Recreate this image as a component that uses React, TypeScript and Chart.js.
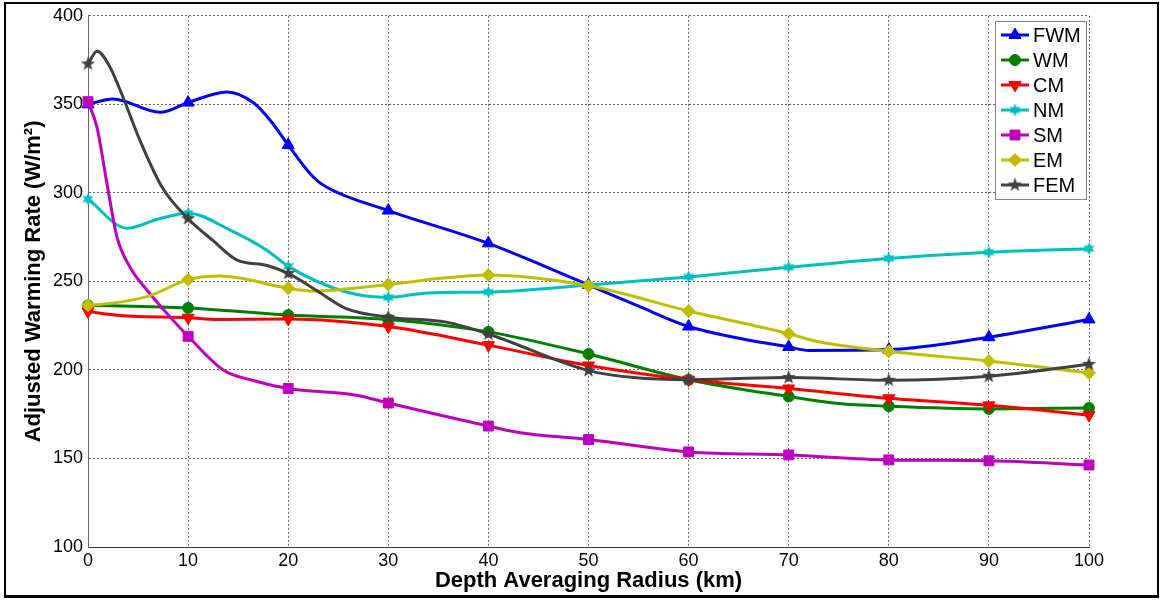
import React, { useEffect, useRef } from 'react';
import { Chart, registerables } from 'chart.js';
import { drawPoint } from 'chart.js/helpers';

Chart.register(...registerables);

// ---------- data ----------
const seriesNames = ['FWM', 'WM', 'CM', 'NM', 'SM', 'EM', 'FEM'];

const fwmX = [0, 2.5, 7.2, 10, 13.9, 16.5, 18.2, 20, 22.5, 23.9, 30, 40, 45, 50, 55, 60, 64.5, 70, 72, 80, 90, 100];
const fwmY = [350, 353, 345.5, 351, 357, 351, 341, 327, 309, 303, 290, 271.5, 260, 248, 236, 224.5, 218.5, 213, 211, 211.5, 218.5, 228.5];

const wmX = [0, 10, 20, 30, 40, 50, 60, 70, 75, 80, 90, 100];
const wmY = [236.5, 235, 231, 228.5, 221.5, 209, 194.5, 185, 181, 179.5, 178, 178.5];

const cmX = [0, 3.2, 10, 13, 20, 30, 40, 50, 60, 70, 80, 90, 100];
const cmY = [233, 230.8, 229.5, 228.5, 228.8, 224.5, 214, 202.5, 194.5, 189.5, 184, 180, 174.5];

const nmX = [0, 3.9, 6.9, 10, 14.2, 17.9, 20, 25.8, 30, 34, 40, 50, 60, 70, 80, 90, 100];
const nmY = [296.5, 280, 285, 288.5, 279, 267.5, 258.5, 244, 241, 243.5, 244, 248, 252.5, 258, 263, 266.5, 268.5];

const smX = [0, 0.9, 1.9, 2.9, 4.2, 5.9, 7.9, 10, 13.5, 16.5, 20, 26.8, 30, 40, 43.2, 50, 60, 70, 80, 90, 100];
const smY = [351.5, 337, 305, 275, 258, 245, 231.8, 219, 200, 194, 189.5, 185.7, 181.3, 168.3, 164.5, 160.7, 153.7, 152, 149.2, 148.7, 146.3];

const emX = [0, 3.2, 6.2, 10, 13.2, 20, 22.5, 30, 35.8, 40, 50, 60, 70, 72.5, 80, 90, 100];
const emY = [236.5, 238.3, 242, 251, 253, 246.2, 244.6, 248.3, 252, 253.6, 247.5, 233.3, 220.5, 216.5, 210.5, 205, 198.3];

const femX = [0, 0.9, 2.2, 3.5, 5.2, 7.4, 10, 12.5, 14.9, 17.9, 20, 22.8, 25.8, 30, 35.8, 40, 50, 54.5, 60, 70, 80, 90, 100];
const femY = [372.8, 380, 371, 354, 329.5, 303.2, 285.4, 273, 262, 259, 254.5, 245, 234.6, 229.8, 227, 220.3, 199.6, 195.7, 194.5, 195.7, 194.2, 196.4, 203.2];

const xTickValues = [0, 10, 20, 30, 40, 50, 60, 70, 80, 90, 100];
const yTickValues = [100, 150, 200, 250, 300, 350, 400];

const xTitle = 'Depth Averaging Radius (km)';
const yTitle = 'Adjusted Warming Rate (W/m²)';

// ---------- style ----------
const colors = ['#0000FF', '#008000', '#FF0000', '#00BFBF', '#BF00BF', '#BFBF00', '#404040'];
const FONT = '"Liberation Sans", Arial, sans-serif';

function makeStar(n: number, rOut: number, rIn: number, color: string): HTMLCanvasElement {
  const size = Math.ceil(rOut * 2 + 2);
  const c = document.createElement('canvas');
  c.width = size;
  c.height = size;
  const g = c.getContext('2d')!;
  const cx = size / 2;
  const cy = size / 2;
  g.beginPath();
  for (let i = 0; i < n * 2; i++) {
    const r = i % 2 === 0 ? rOut : rIn;
    const a = -Math.PI / 2 + (i * Math.PI) / n;
    const x = cx + r * Math.cos(a);
    const y = cy + r * Math.sin(a);
    if (i === 0) g.moveTo(x, y);
    else g.lineTo(x, y);
  }
  g.closePath();
  g.fillStyle = color;
  g.fill();
  return c;
}

const legendPlugin = {
  id: 'matlabLegend',
  afterDraw(chart: any) {
    const ctx = chart.ctx as CanvasRenderingContext2D;
    ctx.save();
    const bx = 995.5, by = 21.5, bw = 91, bh = 178;
    ctx.fillStyle = '#ffffff';
    ctx.fillRect(bx, by, bw, bh);
    ctx.strokeStyle = '#808080';
    ctx.lineWidth = 1;
    ctx.strokeRect(bx, by, bw, bh);
    chart.data.datasets.forEach((ds: any, i: number) => {
      const y = 35 + 25 * i;
      ctx.strokeStyle = ds.borderColor;
      ctx.lineWidth = 3;
      ctx.beginPath();
      ctx.moveTo(1001, y);
      ctx.lineTo(1029, y);
      ctx.stroke();
      ctx.fillStyle = ds.pointBackgroundColor;
      ctx.strokeStyle = ds.pointBorderColor;
      ctx.lineWidth = 1;
      drawPoint(ctx, {
        pointStyle: ds.pointStyle,
        rotation: ds.pointRotation || 0,
        radius: ds.markerRadius,
        borderWidth: ds.pointStyle instanceof HTMLCanvasElement ? 0 : 1,
      } as any, 1015, y);
      ctx.fillStyle = '#000000';
      ctx.font = '20px ' + FONT;
      ctx.textBaseline = 'middle';
      ctx.textAlign = 'left';
      ctx.fillText(ds.label, 1033, y + 1);
    });
    ctx.restore();
  },
};

export default function App() {
  const ref = useRef<HTMLCanvasElement | null>(null);

  useEffect(() => {
    if (!ref.current) return;
    const xs = [fwmX, wmX, cmX, nmX, smX, emX, femX];
    const ys = [fwmY, wmY, cmY, nmY, smY, emY, femY];
    const styles: any[] = [
      'triangle',
      'circle',
      'triangle',
      makeStar(6, 6.5, 3.3, colors[3]),
      'rect',
      'rectRot',
      makeStar(5, 7.5, 3.1, colors[6]),
    ];
    const radii = [7, 5.5, 7, 6.5, 7, 6.5, 7.5];
    const rotations = [0, 0, 180, 0, 0, 0, 0];

    const datasets = seriesNames.map((name, i) => {
      const r = radii[i];
      return {
        label: name,
        data: xs[i].map((x, k) => ({ x, y: ys[i][k] })),
        borderColor: colors[i],
        backgroundColor: colors[i],
        pointBackgroundColor: colors[i],
        pointBorderColor: colors[i],
        pointBorderWidth: styles[i] instanceof HTMLCanvasElement ? 0 : 1,
        borderWidth: 3,
        pointStyle: styles[i],
        pointRotation: rotations[i],
        markerRadius: r,
        pointRadius: (c: any) => (c.raw && c.raw.x % 10 === 0 ? r : 0),
        pointHoverRadius: (c: any) => (c.raw && c.raw.x % 10 === 0 ? r : 0),
        cubicInterpolationMode: 'monotone',
        fill: false,
        clip: false,
        order: seriesNames.length - i,
      };
    });

    const chart = new Chart(ref.current, {
      type: 'line',
      data: { datasets } as any,
      options: {
        animation: false,
        responsive: false,
        maintainAspectRatio: false,
        layout: { padding: { left: 10, top: 15, right: 71, bottom: 5 } },
        plugins: { legend: { display: false }, tooltip: { enabled: false } },
        scales: {
          x: {
            type: 'linear',
            min: 0,
            max: 100,
            afterBuildTicks: (s: any) => {
              s.ticks = xTickValues.map((v) => ({ value: v }));
            },
            afterFit: (s: any) => {
              s.height = 48;
            },
            ticks: {
              color: '#000',
              font: { family: FONT, size: 18 },
              padding: 3,
              maxRotation: 0,
              autoSkip: false,
            },
            grid: { color: '#666', lineWidth: 1, drawTicks: false },
            border: { display: true, color: '#333', width: 1, dash: [2, 2] },
            title: {
              display: true,
              text: xTitle,
              color: '#000',
              font: { family: FONT, size: 22, weight: 'bold' },
              padding: { top: 0, bottom: 1 },
            },
          },
          y: {
            type: 'linear',
            min: 100,
            max: 400,
            afterBuildTicks: (s: any) => {
              s.ticks = yTickValues.map((v) => ({ value: v }));
            },
            afterFit: (s: any) => {
              s.width = 78;
            },
            ticks: {
              color: '#000',
              font: { family: FONT, size: 18 },
              padding: 5,
              autoSkip: false,
            },
            grid: { color: '#666', lineWidth: 1, drawTicks: false },
            border: { display: true, color: '#666', width: 1, dash: [2, 2] },
            title: {
              display: true,
              text: yTitle,
              color: '#000',
              font: { family: FONT, size: 22, weight: 'bold' },
              padding: { top: 11, bottom: 0 },
            },
          },
        },
      } as any,
      plugins: [legendPlugin],
    });
    return () => chart.destroy();
  }, []);

  return (
    <div style={{ position: 'fixed', left: 0, top: 0, width: 1160, height: 600, background: '#fff' }}>
      <canvas ref={ref} width={1160} height={600} style={{ display: 'block', width: 1160, height: 600 }} />
      <div
        style={{
          position: 'absolute',
          left: 4,
          top: 2,
          width: 1151,
          height: 591,
          borderTop: '2px solid #000',
          borderLeft: '2px solid #000',
          borderRight: '2px solid #000',
          borderBottom: '3px solid #000',
          pointerEvents: 'none',
        }}
      />
    </div>
  );
}
